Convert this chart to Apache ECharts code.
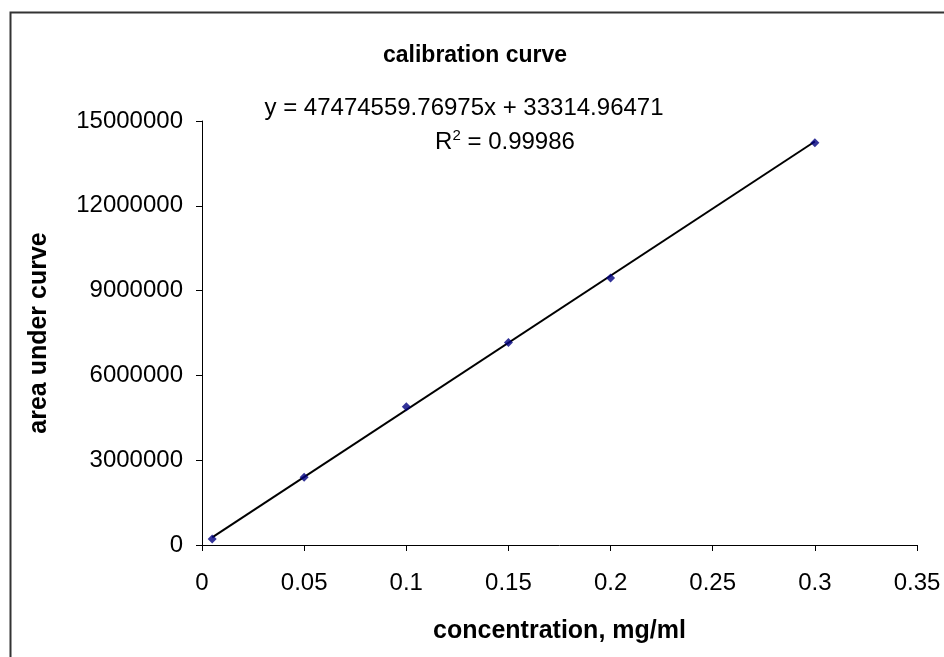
<!DOCTYPE html>
<html>
<head>
<meta charset="utf-8">
<script src="https://cdn.jsdelivr.net/npm/echarts@6/dist/echarts.min.js"></script>
<style>html,body{margin:0;padding:0;background:#fff}#c{width:944px;height:657px}</style>
</head>
<body>
<div id="c"></div>
<script>
var concentrations = [0.005, 0.05, 0.1, 0.15, 0.2, 0.3];
var areas = [210000, 2400000, 4890000, 7160000, 9450000, 14230000];
var trendX = [0.005, 0.3];
var trendY = [270688, 14275683];
var xTicks = [0, 0.05, 0.1, 0.15, 0.2, 0.25, 0.3, 0.35];
var yTicks = [0, 3000000, 6000000, 9000000, 12000000, 15000000];

var FONT = '"Liberation Sans", Arial, sans-serif';
var chart = echarts.init(document.getElementById('c'), null, {renderer: 'canvas'});
var pts = concentrations.map(function (x, i) { return [x, areas[i]]; });
var trend = trendX.map(function (x, i) { return [x, trendY[i]]; });

chart.setOption({
  animation: false,
  backgroundColor: '#fff',
  title: {
    text: 'calibration curve',
    left: 470, top: 39, textAlign: 'center',
    textStyle: {fontFamily: FONT, fontSize: 23, fontWeight: 'bold', color: '#000'}
  },
  grid: {left: 202, right: 27, top: 121, bottom: 112, containLabel: false},
  xAxis: {
    type: 'value', min: 0, max: 0.35, interval: 0.05,
    name: 'concentration, mg/ml', nameLocation: 'middle', nameGap: 74,
    nameTextStyle: {fontFamily: FONT, fontSize: 25, fontWeight: 'bold', color: '#000'},
    axisLine: {show: true, onZero: false, lineStyle: {color: '#000', width: 1}},
    axisTick: {show: true, length: 6, lineStyle: {color: '#000'}},
    splitLine: {show: false},
    axisLabel: {fontFamily: FONT, fontSize: 24, color: '#000', margin: 26,
      formatter: function (v) { return String(+v.toFixed(2)); }}
  },
  yAxis: {
    type: 'value', min: 0, max: 15000000, interval: 3000000,
    name: 'area under curve', nameLocation: 'middle', nameGap: 150, nameRotate: 90,
    nameTextStyle: {fontFamily: FONT, fontSize: 25, fontWeight: 'bold', color: '#000'},
    axisLine: {show: true, lineStyle: {color: '#000', width: 1}},
    axisTick: {show: true, length: 6, lineStyle: {color: '#000'}},
    splitLine: {show: false},
    axisLabel: {fontFamily: FONT, fontSize: 24, color: '#000', margin: 19,
      formatter: function (v) { return String(v); }}
  },
  series: [
    {
      type: 'line', data: trend, symbol: 'none', silent: true,
      lineStyle: {color: '#000', width: 2}, z: 2
    },
    {
      type: 'scatter', data: pts, symbol: 'diamond', symbolSize: 9,
      itemStyle: {color: '#000080'}, z: 3
    }
  ],
  graphic: [
    {
      type: 'rect', left: 8, top: 10, silent: true,
      shape: {width: 960, height: 700},
      style: {fill: 'none', stroke: '#333', lineWidth: 2}, z: -1
    },
    {
      type: 'text', x: 464, y: 108, silent: true,
      style: {text: 'y = 47474559.76975x + 33314.96471', font: '24px ' + FONT,
        fill: '#000', textAlign: 'center', textVerticalAlign: 'middle'}
    },
    {
      type: 'text', x: 505, y: 142, silent: true,
      style: {
        text: '{a|R}{s|2}{a| = 0.99986}',
        textAlign: 'center', textVerticalAlign: 'middle',
        rich: {
          a: {fontFamily: FONT, fontSize: 24, fill: '#000', color: '#000'},
          s: {fontFamily: FONT, fontSize: 15, fill: '#000', color: '#000', verticalAlign: 'top', padding: [0, 0, 12, 0]}
        }
      }
    }
  ]
});
</script>
</body>
</html>
